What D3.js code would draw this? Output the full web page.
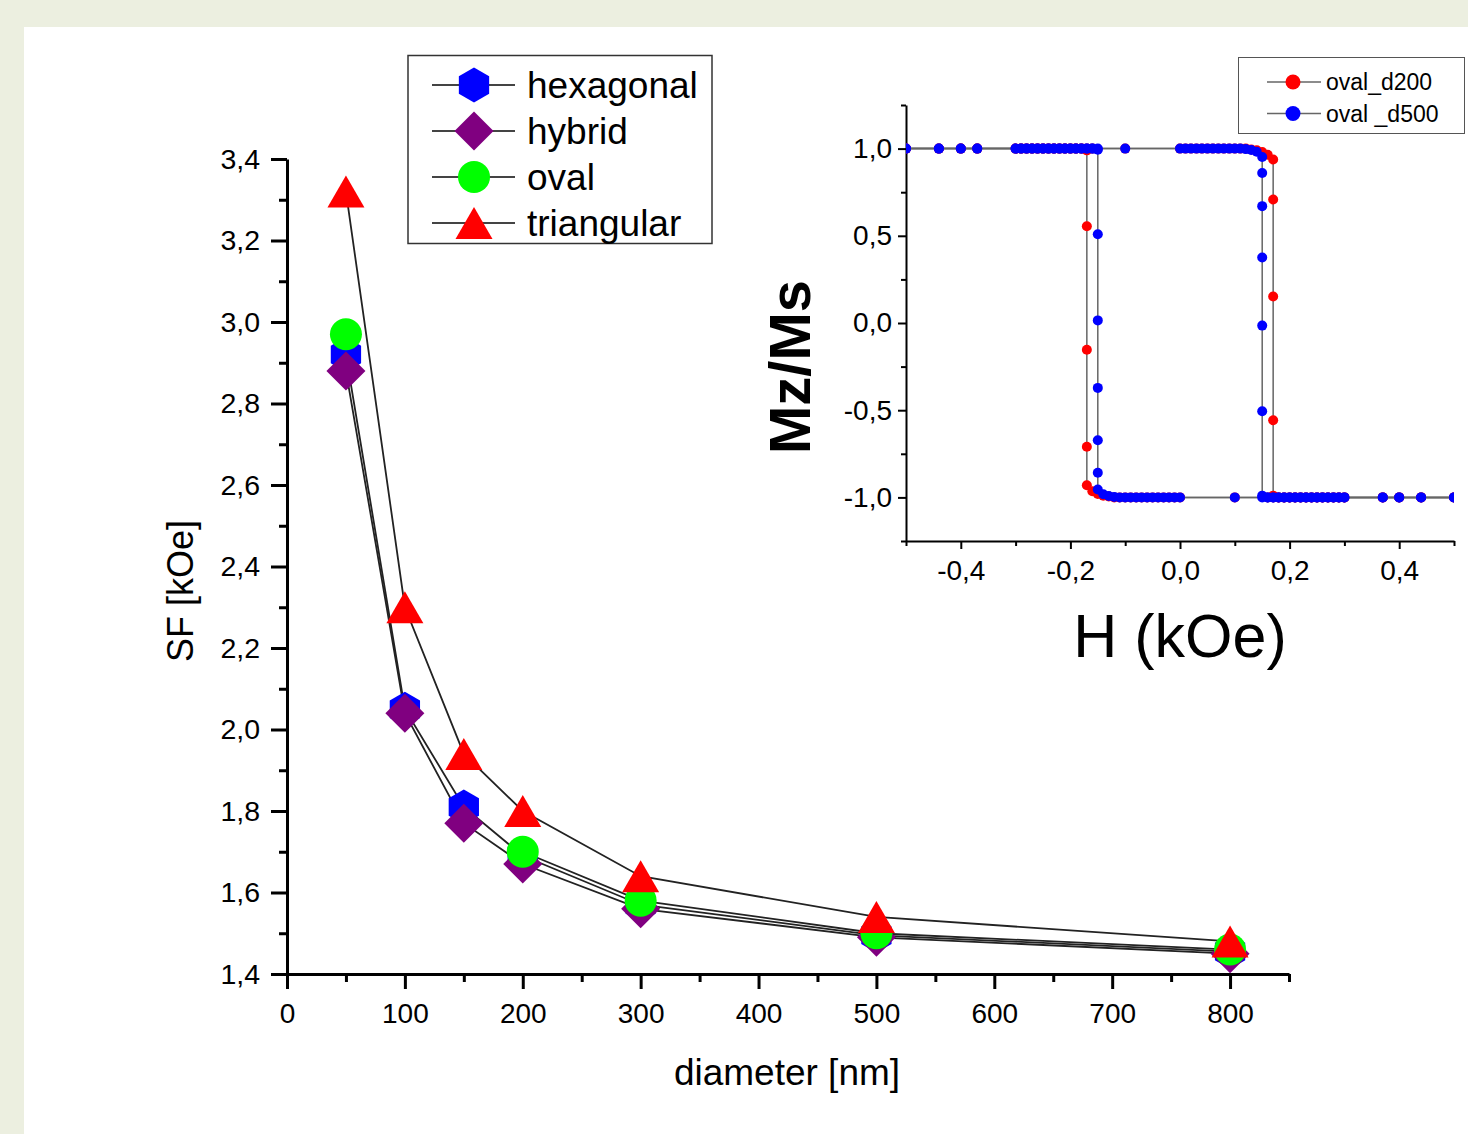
<!DOCTYPE html>
<html>
<head>
<meta charset="utf-8">
<script src="https://cdn.jsdelivr.net/npm/d3@7"></script>
<style>
  html, body { margin: 0; padding: 0; background: #ECEFE0; }
  svg { display: block; }
  text { font-family: "Liberation Sans", Arial, sans-serif; fill: #000; }
</style>
</head>
<body>
<svg id="chart" width="1468" height="1134"></svg>
<script>
// ---------------- main chart data ----------------
const diameters = [50, 100, 150, 200, 300, 500, 800];
const sfHexagonal  = [2.92, 2.05, 1.81, 1.69, 1.57, 1.495, 1.455];
const sfHybrid     = [2.88, 2.04, 1.77, 1.67, 1.56, 1.49, 1.45];
const sfOval       = [2.97, null, null, 1.70, 1.58, 1.50, 1.46];
const sfTriangular = [3.32, 2.30, 1.94, 1.80, 1.64, 1.54, 1.48];
const seriesNames  = ["hexagonal", "hybrid", "oval", "triangular"];
const xMajorTicks = [0, 100, 200, 300, 400, 500, 600, 700, 800];
const xMinorTicks = [50, 150, 250, 350, 450, 550, 650, 750, 850];
const yMajorTicks = [1.4, 1.6, 1.8, 2.0, 2.2, 2.4, 2.6, 2.8, 3.0, 3.2, 3.4];
const yMinorTicks = [1.5, 1.7, 1.9, 2.1, 2.3, 2.5, 2.7, 2.9, 3.1, 3.3];

// ---------------- inset data (hysteresis loops) ----------------
const insetNames = ["oval_d200", "oval _d500"];
const d200DownH = [0.50,0.44,0.40,0.37,
  0.30,0.29,0.28,0.27,0.26,0.25,0.24,0.23,0.22,0.21,0.20,0.19,0.18,0.17,0.16,
  0.10,
  0.00,-0.01,-0.02,-0.03,-0.04,-0.05,-0.06,-0.07,-0.08,-0.09,-0.10,-0.11,-0.12,-0.13,-0.14,-0.15,-0.16,-0.17,
  -0.17,-0.17,-0.17,-0.17,
  -0.18,-0.19,-0.20,-0.21,-0.22,-0.23,-0.24,-0.25,-0.26,-0.27,-0.28,-0.29,-0.30,
  -0.37,-0.40,-0.44,-0.50];
const d200DownM = [-1,-1,-1,-1,
  -1,-1,-1,-1,-1,-1,-1,-1,-1,-1,-1,-1,-1,-1,-1,
  -1,
  -1,-1,-1,-1,-1,-1,-1,-1,-1,-1,-1,-1,-1,-0.995,-0.99,-0.98,-0.965,-0.93,
  -0.71,-0.153,0.555,0.99,
  1,1,1,1,1,1,1,1,1,1,1,1,1,
  1,1,1,1];
const d200UpH = [-0.50,-0.44,-0.40,-0.37,
  -0.30,-0.29,-0.28,-0.27,-0.26,-0.25,-0.24,-0.23,-0.22,-0.21,-0.20,-0.19,-0.18,-0.17,-0.16,
  -0.10,
  0.00,0.01,0.02,0.03,0.04,0.05,0.06,0.07,0.08,0.09,0.10,0.11,0.12,0.13,0.14,0.15,0.16,0.17,
  0.17,0.17,0.17,0.17,
  0.18,0.19,0.20,0.21,0.22,0.23,0.24,0.25,0.26,0.27,0.28,0.29,0.30,
  0.37,0.40,0.44,0.50];
const d200UpM = [1,1,1,1,
  1,1,1,1,1,1,1,1,1,1,1,1,1,1,1,
  1,
  1,1,1,1,1,1,1,1,1,1,1,1,1,0.995,0.99,0.98,0.965,0.937,
  0.708,0.152,-0.558,-0.99,
  -1,-1,-1,-1,-1,-1,-1,-1,-1,-1,-1,-1,-1,
  -1,-1,-1,-1];
const d500DownH = [0.50,0.44,0.40,0.37,
  0.30,0.29,0.28,0.27,0.26,0.25,0.24,0.23,0.22,0.21,0.20,0.19,0.18,0.17,0.16,0.15,
  0.10,
  0.00,-0.01,-0.02,-0.03,-0.04,-0.05,-0.06,-0.07,-0.08,-0.09,-0.10,-0.11,-0.12,-0.13,-0.14,-0.15,
  -0.15,-0.15,-0.15,-0.15,-0.15,-0.15,
  -0.16,-0.17,-0.18,-0.19,-0.20,-0.21,-0.22,-0.23,-0.24,-0.25,-0.26,-0.27,-0.28,-0.29,-0.30,
  -0.37,-0.40,-0.44,-0.50];
const d500DownM = [-1,-1,-1,-1,
  -1,-1,-1,-1,-1,-1,-1,-1,-1,-1,-1,-1,-1,-1,-1,-1,
  -1,
  -1,-1,-1,-1,-1,-1,-1,-1,-1,-1,-1,-1,-0.997,-0.992,-0.982,-0.955,
  -0.859,-0.672,-0.372,0.015,0.509,0.994,
  1,1,1,1,1,1,1,1,1,1,1,1,1,1,1,
  1,1,1,1];
const d500UpH = [-0.50,-0.44,-0.40,-0.37,
  -0.30,-0.29,-0.28,-0.27,-0.26,-0.25,-0.24,-0.23,-0.22,-0.21,-0.20,-0.19,-0.18,-0.17,-0.16,-0.15,
  -0.10,
  0.00,0.01,0.02,0.03,0.04,0.05,0.06,0.07,0.08,0.09,0.10,0.11,0.12,0.13,0.14,0.15,
  0.15,0.15,0.15,0.15,0.15,0.15,
  0.16,0.17,0.18,0.19,0.20,0.21,0.22,0.23,0.24,0.25,0.26,0.27,0.28,0.29,0.30,
  0.37,0.40,0.44,0.50];
const d500UpM = [1,1,1,1,
  1,1,1,1,1,1,1,1,1,1,1,1,1,1,1,1,
  1,
  1,1,1,1,1,1,1,1,1,1,1,1,0.997,0.992,0.982,0.952,
  0.86,0.67,0.376,-0.015,-0.506,-0.99,
  -1,-1,-1,-1,-1,-1,-1,-1,-1,-1,-1,-1,-1,-1,-1,
  -1,-1,-1,-1];
const insetXTicks = [-0.4, -0.2, 0.0, 0.2, 0.4];
const insetXMinor = [-0.5, -0.3, -0.1, 0.1, 0.3, 0.5];
const insetYTicks = [-1.0, -0.5, 0.0, 0.5, 1.0];
const insetYMinor = [-1.25, -0.75, -0.25, 0.25, 0.75, 1.25];

// ---------------- drawing ----------------
const svg = d3.select("#chart");
svg.append("rect").attr("x", 24).attr("y", 27).attr("width", 1444).attr("height", 1107).attr("fill", "#fff");

const fmt = v => d3.format(".1f")(v).replace(".", ",").replace("\u2212", "-");

// main scales
const x = d3.scaleLinear().domain([0, 850]).range([287, 1289]);
const y = d3.scaleLinear().domain([1.4, 3.4]).range([974, 159]);

function styleAxis(g, w) {
  g.selectAll("path.domain").attr("stroke", "#000").attr("stroke-width", w);
  g.selectAll(".tick line").attr("stroke", "#000").attr("stroke-width", w);
}

// minor ticks
const gxm = svg.append("g").attr("transform", "translate(0,974)")
  .call(d3.axisBottom(x).tickValues(xMinorTicks).tickSize(8).tickFormat(""));
gxm.select("path.domain").remove(); styleAxis(gxm, 3);
const gym = svg.append("g").attr("transform", "translate(287,0)")
  .call(d3.axisLeft(y).tickValues(yMinorTicks).tickSize(8).tickFormat(""));
gym.select("path.domain").remove(); styleAxis(gym, 3);

const gx = svg.append("g").attr("transform", "translate(0,974)")
  .call(d3.axisBottom(x).tickValues(xMajorTicks).tickSize(15).tickSizeOuter(0).tickPadding(14).tickFormat(d3.format("d")));
styleAxis(gx, 3);
gx.selectAll("text").attr("font-size", 28).attr("font-family", "Liberation Sans, Arial, sans-serif").attr("fill", "#000");

const gy = svg.append("g").attr("transform", "translate(287,0)")
  .call(d3.axisLeft(y).tickValues(yMajorTicks).tickSize(16).tickSizeOuter(0).tickPadding(11).tickFormat(fmt));
styleAxis(gy, 3);
gy.selectAll("text").attr("font-size", 28.5).attr("font-family", "Liberation Sans, Arial, sans-serif").attr("fill", "#000");

svg.append("text").attr("x", 787).attr("y", 1085).attr("text-anchor", "middle")
  .attr("font-size", 37).text("diameter [nm]");
svg.append("text").attr("transform", "translate(193,591) rotate(-90)").attr("text-anchor", "middle")
  .attr("font-size", 36).text("SF [kOe]");

// marker shapes
const shapes = {
  hexagon: r => { const p = d3.path(); for (let i = 0; i < 6; i++) { const a = -Math.PI/2 + i*Math.PI/3; i ? p.lineTo(r*Math.cos(a), r*Math.sin(a)) : p.moveTo(r*Math.cos(a), r*Math.sin(a)); } p.closePath(); return p.toString(); },
  diamond: r => `M0,${-r}L${r},0L0,${r}L${-r},0Z`,
  circle: r => `M${r},0A${r},${r} 0 1,1 ${-r},0A${r},${r} 0 1,1 ${r},0Z`,
  triangle: r => `M0,${-r*0.865}L${r},${r*0.865}L${-r},${r*0.865}Z`
};
const seriesDefs = [
  { name: seriesNames[0], values: sfHexagonal,  color: "#0000FF", shape: shapes.hexagon(17.5) },
  { name: seriesNames[1], values: sfHybrid,     color: "#800080", shape: shapes.diamond(19.5) },
  { name: seriesNames[2], values: sfOval,       color: "#00FF00", shape: shapes.circle(16) },
  { name: seriesNames[3], values: sfTriangular, color: "#FF0000", shape: shapes.triangle(18.5) }
];

const line = d3.line().defined(d => d[1] !== null).x(d => x(d[0])).y(d => y(d[1]));
seriesDefs.forEach(s => {
  svg.append("path").datum(diameters.map((dv, i) => [dv, s.values[i]]))
    .attr("d", line).attr("fill", "none").attr("stroke", "#222").attr("stroke-width", 1.8);
});
seriesDefs.forEach(s => {
  svg.append("g").selectAll("path")
    .data(diameters.map((dv, i) => [dv, s.values[i]]).filter(d => d[1] !== null))
    .join("path")
    .attr("transform", d => `translate(${x(d[0])},${y(d[1])})`)
    .attr("d", s.shape).attr("fill", s.color);
});

// main legend
const lg = svg.append("g");
lg.append("rect").attr("x", 408).attr("y", 55.5).attr("width", 304).attr("height", 188)
  .attr("fill", "#fff").attr("stroke", "#333").attr("stroke-width", 1.5);
seriesDefs.forEach((s, i) => {
  const cy = 85 + i * 46;
  lg.append("line").attr("x1", 432).attr("x2", 515).attr("y1", cy).attr("y2", cy)
    .attr("stroke", "#444").attr("stroke-width", 2);
  lg.append("path").attr("transform", `translate(474,${cy})`).attr("d", s.shape).attr("fill", s.color);
  lg.append("text").attr("x", 527).attr("y", cy).attr("dy", "0.35em").attr("font-size", 37).text(s.name);
});

// ---------------- inset ----------------
const hx = d3.scaleLinear().domain([-0.5, 0.5]).range([906, 1454]);
const hy = d3.scaleLinear().domain([-1.25, 1.25]).range([541, 105]);

const ixm = svg.append("g").attr("transform", "translate(0,541)")
  .call(d3.axisBottom(hx).tickValues(insetXMinor).tickSize(5).tickFormat(""));
ixm.select("path.domain").remove(); styleAxis(ixm, 2);
const iym = svg.append("g").attr("transform", "translate(906,0)")
  .call(d3.axisLeft(hy).tickValues(insetYMinor).tickSize(5).tickFormat(""));
iym.select("path.domain").remove(); styleAxis(iym, 2);

const ix = svg.append("g").attr("transform", "translate(0,541)")
  .call(d3.axisBottom(hx).tickValues(insetXTicks).tickSize(8).tickSizeOuter(0).tickPadding(11).tickFormat(fmt));
styleAxis(ix, 2);
ix.selectAll("text").attr("font-size", 28).attr("font-family", "Liberation Sans, Arial, sans-serif").attr("fill", "#000");
const iy = svg.append("g").attr("transform", "translate(906,0)")
  .call(d3.axisLeft(hy).tickValues(insetYTicks).tickSize(8).tickSizeOuter(0).tickPadding(6).tickFormat(fmt));
styleAxis(iy, 2);
iy.selectAll("text").attr("font-size", 28).attr("font-family", "Liberation Sans, Arial, sans-serif").attr("fill", "#000");

svg.append("text").attr("x", 1180).attr("y", 657).attr("text-anchor", "middle")
  .attr("font-size", 61).text("H (kOe)");
svg.append("text").attr("transform", "translate(810,367) rotate(-90)").attr("text-anchor", "middle")
  .attr("font-size", 58).attr("font-weight", "bold").text("Mz/Ms");

svg.append("clipPath").attr("id", "insetClip").append("rect")
  .attr("x", 906).attr("y", 105).attr("width", 548).attr("height", 436);
const plot = svg.append("g").attr("clip-path", "url(#insetClip)");

const loops = [
  { color: "#FF0000", branches: [[d200DownH, d200DownM], [d200UpH, d200UpM]] },
  { color: "#0000FF", branches: [[d500DownH, d500DownM], [d500UpH, d500UpM]] }
];
const hline = d3.line().x(d => hx(d[0])).y(d => hy(d[1]));
loops.forEach(lp => {
  lp.branches.forEach(([H, M]) => {
    const pts = H.map((h, i) => [h, M[i]]);
    plot.append("path").datum(pts).attr("d", hline).attr("fill", "none")
      .attr("stroke", "#666").attr("stroke-width", 1.5);
  });
  lp.branches.forEach(([H, M]) => {
    plot.append("g").selectAll("circle").data(H.map((h, i) => [h, M[i]])).join("circle")
      .attr("cx", d => hx(d[0])).attr("cy", d => hy(d[1])).attr("r", 5).attr("fill", lp.color);
  });
});

// inset legend
const il = svg.append("g");
il.append("rect").attr("x", 1238.5).attr("y", 57.5).attr("width", 226).attr("height", 76)
  .attr("fill", "#fff").attr("stroke", "#555").attr("stroke-width", 1);
loops.forEach((lp, i) => {
  const cy = 82 + i * 31.5;
  il.append("line").attr("x1", 1267).attr("x2", 1321).attr("y1", cy).attr("y2", cy)
    .attr("stroke", "#666").attr("stroke-width", 1.5);
  il.append("circle").attr("cx", 1293).attr("cy", cy).attr("r", 7.5).attr("fill", lp.color);
  il.append("text").attr("x", 1326).attr("y", cy).attr("dy", "0.35em").attr("font-size", 23).text(insetNames[i]);
});
</script>
</body>
</html>
